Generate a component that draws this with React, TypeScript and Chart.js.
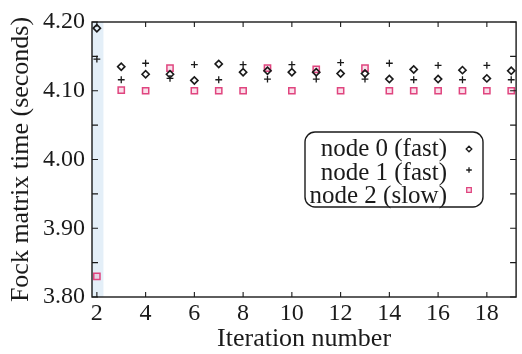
import React, { useEffect, useRef } from 'react';
import { Chart, registerables } from 'chart.js';

Chart.register(...registerables);

// ---- data ----
const iterations = [2, 3, 4, 5, 6, 7, 8, 9, 10, 11, 12, 13, 14, 15, 16, 17, 18, 19];
const node0 = [4.191, 4.135, 4.124, 4.124, 4.115, 4.139, 4.127, 4.129, 4.127, 4.127, 4.125, 4.125, 4.117, 4.131, 4.117, 4.130, 4.118, 4.129];
const node1 = [4.146, 4.116, 4.140, 4.118, 4.138, 4.116, 4.138, 4.117, 4.138, 4.117, 4.141, 4.117, 4.140, 4.116, 4.137, 4.116, 4.137, 4.116];
const node2 = [3.830, 4.101, 4.100, 4.133, 4.100, 4.100, 4.100, 4.133, 4.100, 4.131, 4.100, 4.133, 4.100, 4.100, 4.100, 4.100, 4.100, 4.100];
const seriesLabels = ['node 0 (fast)', 'node 1 (fast)', 'node 2 (slow)'];
const xTicks = [2, 4, 6, 8, 10, 12, 14, 16, 18];
const yTicks = [3.80, 3.85, 3.90, 3.95, 4.00, 4.05, 4.10, 4.15, 4.20];
const yLabelTicks = [3.8, 3.9, 4.0, 4.1, 4.2];
const xTitle = 'Iteration number';
const yTitle = 'Fock matrix time (seconds)';

const SERIF = "'Liberation Serif', 'DejaVu Serif', serif";
const PINK = '#e0457f';
const INK = '#1a1a1a';

const toPoints = (ys: number[]) => iterations.map((x, i) => ({ x, y: ys[i] }));

const stripPlugin = {
  id: 'strip',
  beforeDatasetsDraw(chart: any) {
    const { ctx, chartArea, scales } = chart;
    const x1 = scales.x.getPixelForValue(2.27);
    ctx.save();
    ctx.fillStyle = 'rgba(205,226,243,0.55)';
    ctx.fillRect(chartArea.left, chartArea.top, x1 - chartArea.left, chartArea.bottom - chartArea.top);
    ctx.restore();
  },
};

const framePlugin = {
  id: 'frame',
  afterDatasetsDraw(chart: any) {
    const { ctx, chartArea, scales } = chart;
    const { left, right, top, bottom } = chartArea;
    ctx.save();
    ctx.strokeStyle = INK;
    ctx.lineWidth = 1.4;
    ctx.strokeRect(left, top, right - left, bottom - top);
    ctx.lineWidth = 1.1;
    ctx.beginPath();
    xTicks.forEach((v) => {
      const px = scales.x.getPixelForValue(v);
      ctx.moveTo(px, bottom);
      ctx.lineTo(px, bottom - 5);
      ctx.moveTo(px, top);
      ctx.lineTo(px, top + 5);
    });
    yTicks.forEach((v) => {
      const py = scales.y.getPixelForValue(v);
      ctx.moveTo(left, py);
      ctx.lineTo(left + 6, py);
      ctx.moveTo(right, py);
      ctx.lineTo(right - 6, py);
    });
    ctx.stroke();
    ctx.restore();
  },
};

function drawSymbol(ctx: CanvasRenderingContext2D, style: string, x: number, y: number, r: number, color: string, fill: string) {
  ctx.save();
  ctx.strokeStyle = color;
  ctx.fillStyle = fill;
  ctx.lineWidth = 1.3;
  ctx.beginPath();
  if (style === 'rectRot') {
    ctx.moveTo(x, y - r);
    ctx.lineTo(x + r, y);
    ctx.lineTo(x, y + r);
    ctx.lineTo(x - r, y);
    ctx.closePath();
  } else if (style === 'cross') {
    ctx.moveTo(x - r, y);
    ctx.lineTo(x + r, y);
    ctx.moveTo(x, y - r);
    ctx.lineTo(x, y + r);
  } else {
    ctx.rect(x - r, y - r, 2 * r, 2 * r);
    ctx.fill();
  }
  ctx.stroke();
  ctx.restore();
}

const keyPlugin = {
  id: 'key',
  afterDraw(chart: any) {
    const { ctx, chartArea } = chart;
    const bx = chartArea.left + 213;
    const by = chartArea.top + 110;
    const bw = 178;
    const bh = 75;
    ctx.save();
    ctx.strokeStyle = INK;
    ctx.lineWidth = 1.4;
    ctx.fillStyle = '#ffffff';
    ctx.beginPath();
    (ctx as any).roundRect(bx, by, bw, bh, 10);
    ctx.fill();
    ctx.stroke();
    ctx.font = `25px ${SERIF}`;
    ctx.fillStyle = INK;
    ctx.textAlign = 'right';
    ctx.textBaseline = 'alphabetic';
    const baselines = [24, 48, 71];
    const symY = [17, 38, 58];
    chart.data.datasets.forEach((ds: any, i: number) => {
      ctx.fillText(ds.label, bx + 142, by + baselines[i]);
      drawSymbol(ctx, ds.pointStyle, bx + 164, by + symY[i], i === 2 ? 2.3 : 2.8, ds.borderColor, ds.backgroundColor);
    });
    ctx.restore();
  },
};

export default function App() {
  const canvasRef = useRef<HTMLCanvasElement | null>(null);

  useEffect(() => {
    if (!canvasRef.current) return;
    const chart = new Chart(canvasRef.current, {
      type: 'scatter',
      data: {
        datasets: [
          {
            label: seriesLabels[0],
            data: toPoints(node0),
            pointStyle: 'rectRot',
            pointRadius: 3.6,
            borderWidth: 1.6,
            borderColor: INK,
            backgroundColor: 'rgba(255,255,255,0)',
          },
          {
            label: seriesLabels[1],
            data: toPoints(node1),
            pointStyle: 'cross',
            pointRadius: 3.4,
            borderWidth: 1.3,
            borderColor: INK,
            backgroundColor: INK,
          },
          {
            label: seriesLabels[2],
            data: toPoints(node2),
            pointStyle: 'rect',
            pointRadius: 4.4,
            borderWidth: 1.5,
            borderColor: PINK,
            backgroundColor: 'rgba(230,110,160,0.22)',
          },
        ] as any,
      },
      options: {
        animation: false,
        responsive: false,
        layout: { padding: { top: 22, right: 4, left: 0, bottom: 0 } },
        plugins: {
          legend: { display: false },
          tooltip: { enabled: false },
        },
        scales: {
          x: {
            type: 'linear',
            min: 1.8,
            max: 19.2,
            afterBuildTicks: (s: any) => {
              s.ticks = xTicks.map((v) => ({ value: v }));
            },
            afterFit: (s: any) => {
              s.height = 57;
            },
            grid: { display: false, drawTicks: false },
            border: { display: false },
            ticks: {
              color: INK,
              padding: 2,
              maxRotation: 0,
              autoSkip: false,
              font: { family: SERIF, size: 24 },
              callback: (v: any) => String(v),
            },
            title: {
              display: true,
              text: xTitle,
              color: INK,
              font: { family: SERIF, size: 26, lineHeight: 1 },
              padding: { top: 0, bottom: 2 },
            },
          },
          y: {
            type: 'linear',
            min: 3.8,
            max: 4.2,
            afterBuildTicks: (s: any) => {
              s.ticks = yTicks.map((v) => ({ value: v }));
            },
            afterFit: (s: any) => {
              s.width = 92;
            },
            grid: { display: false, drawTicks: false },
            border: { display: false },
            ticks: {
              color: INK,
              padding: 7,
              autoSkip: false,
              font: { family: SERIF, size: 24 },
              callback: (v: any) =>
                yLabelTicks.some((t) => Math.abs(t - Number(v)) < 1e-6) ? Number(v).toFixed(2) : '',
            },
            title: {
              display: true,
              text: yTitle,
              color: INK,
              font: { family: SERIF, size: 26, lineHeight: 1 },
              padding: { top: 8, bottom: 0 },
            },
          },
        },
      } as any,
      plugins: [stripPlugin, framePlugin, keyPlugin],
    });
    return () => chart.destroy();
  }, []);

  return (
    <div style={{ position: 'absolute', left: 0, top: 0, width: 522, height: 354, background: '#fff' }}>
      <canvas ref={canvasRef} width={522} height={354} style={{ display: 'block' }} />
    </div>
  );
}
